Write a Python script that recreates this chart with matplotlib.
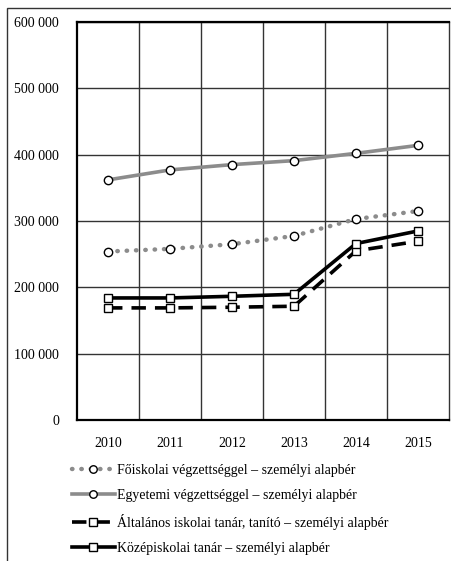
import matplotlib.pyplot as plt
from matplotlib.patches import Rectangle
from matplotlib.ticker import FuncFormatter

plt.rcParams['font.family'] = ['Liberation Serif', 'DejaVu Serif']

# Data
years = ["2010", "2011", "2012", "2013", "2014", "2015"]
foiskolai = [254000, 258000, 265000, 277500, 303000, 315000]
egyetemi = [362000, 377000, 385000, 391000, 402000, 414000]
altalanos = [169000, 169000, 170000, 171500, 255000, 269500]
kozepiskolai = [184000, 184000, 186500, 189500, 266000, 285000]

labels = [
    "Főiskolai végzettséggel – személyi alapbér",
    "Egyetemi végzettséggel – személyi alapbér",
    "Általános iskolai tanár, tanító – személyi alapbér",
    "Középiskolai tanár – személyi alapbér",
]

fig = plt.figure(figsize=(4.51, 5.61), dpi=100)
ax = fig.add_axes([77 / 451, 141 / 561, 372 / 451, 398 / 561])

x = list(range(len(years)))

l1, = ax.plot(x, foiskolai, color="#8c8c8c", lw=3.2, ls=(0, (0.1, 2.0)),
              dash_capstyle="round", marker="o", ms=6, mfc="white",
              mec="black", mew=1.0, zorder=4)
l2, = ax.plot(x, egyetemi, color="#8c8c8c", lw=2.6, marker="o", ms=6,
              mfc="white", mec="black", mew=1.0, zorder=4)
l3, = ax.plot(x, altalanos, color="black", lw=2.6, ls=(0, (4, 2.5)),
              marker="s", ms=6, mfc="white", mec="black", mew=1.0, zorder=4)
l4, = ax.plot(x, kozepiskolai, color="black", lw=2.6, marker="s", ms=6,
              mfc="white", mec="black", mew=1.0, zorder=4)

ax.set_xlim(-0.5, 5.5)
ax.set_ylim(0, 600000)
ax.set_yticks(range(0, 600001, 100000))
ax.yaxis.set_major_formatter(FuncFormatter(lambda v, p: f"{int(v):,}".replace(",", " ")))
ax.set_xticks(x)
ax.set_xticklabels(years)

ax.grid(False)
for v in range(100000, 600001, 100000):
    ax.axhline(v, color="#333333", lw=1.0, zorder=1)
for xv in [i + 0.5 for i in range(len(years) - 1)]:
    ax.axvline(xv, color="#333333", lw=1.0, zorder=1)

for s in ["left", "bottom", "top"]:
    ax.spines[s].set_linewidth(1.6)
    ax.spines[s].set_color("black")
ax.spines["right"].set_linewidth(1.0)
ax.spines["right"].set_color("#333333")

ax.tick_params(axis="both", which="both", length=0, labelsize=10, colors="black")
ax.tick_params(axis="y", pad=13)
ax.tick_params(axis="x", which="major", pad=12)

leg = fig.legend([l1, l2, l3, l4], labels, loc="upper left",
                 bbox_to_anchor=(66 / 451, 1 - 458 / 561), frameon=False,
                 fontsize=10, handlelength=3.1, handletextpad=0.2,
                 labelspacing=0.88, borderaxespad=0, markerscale=0.9)

# outer frame
fig.patches.append(Rectangle((7 / 451, -0.01), 1.0, 1 - 8 / 561 + 0.01,
                             transform=fig.transFigure, fill=False,
                             edgecolor="#333333", lw=1.0))

fig.savefig("out.png", dpi=100)
